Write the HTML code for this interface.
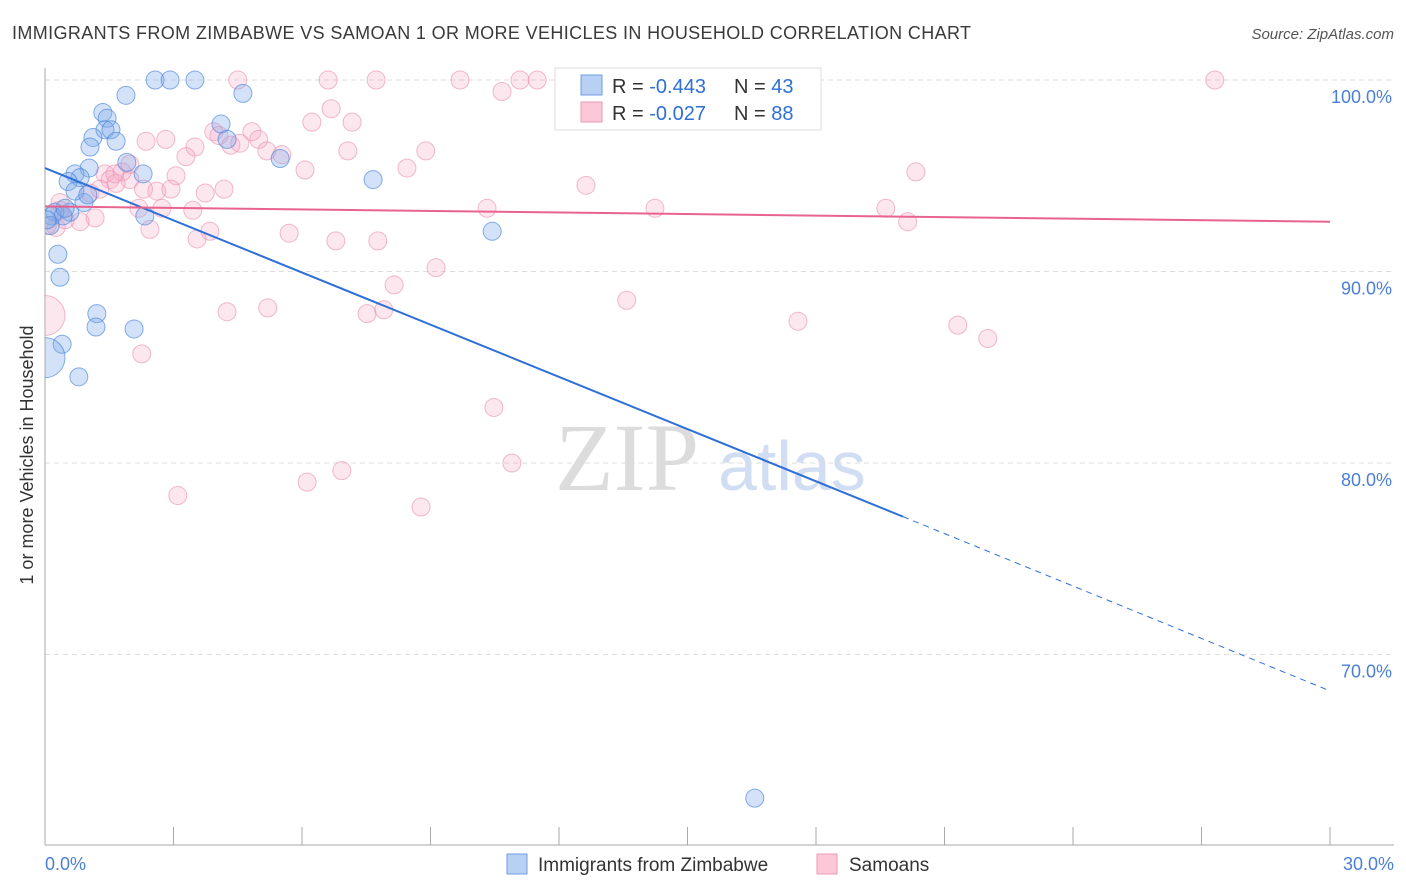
<!DOCTYPE html>
<html><head><meta charset="utf-8"><style>
body{margin:0;background:#fff;font-family:"Liberation Sans",sans-serif;}
svg{display:block}
</style></head><body>
<svg id="c" width="1406" height="892" xmlns="http://www.w3.org/2000/svg">
<defs><clipPath id="plotclip"><rect x="45" y="60" width="1360" height="785"/></clipPath></defs>
<text x="12" y="39" font-size="18" fill="#3a3a3a" textLength="959">IMMIGRANTS FROM ZIMBABWE VS SAMOAN 1 OR MORE VEHICLES IN HOUSEHOLD CORRELATION CHART</text>
<text x="1394" y="39" font-size="15" fill="#555" font-style="italic" text-anchor="end">Source: ZipAtlas.com</text>
<text x="555" y="490" font-size="96" font-family="Liberation Serif,serif" fill="#dcdcdc">ZIP</text>
<text x="718" y="490" font-size="70" fill="#d0ddf2">atlas</text>
<g id="grid"></g><g id="axes"></g><g id="pts" clip-path="url(#plotclip)"></g><g id="trend"></g>
<text transform="translate(33,455) rotate(-90)" font-size="18" fill="#333" text-anchor="middle">1 or more Vehicles in Household</text>
<text x="45" y="870" font-size="18" fill="#4a7fd6">0.0%</text>
<text x="1394" y="870" font-size="18" fill="#4a7fd6" text-anchor="end">30.0%</text>
<g>
<rect x="555" y="68" width="266" height="62" fill="#fff" stroke="#ddd"/>
<rect x="581" y="75" width="21" height="20" fill="#b8d0f4" stroke="#6f9ee0"/>
<rect x="581" y="102" width="21" height="20" fill="#fcc8d8" stroke="#ec9ab4"/>
<text x="612" y="93" font-size="20" fill="#333">R = <tspan fill="#2f6fd8">-0.443</tspan><tspan x="734">N = </tspan><tspan fill="#2f6fd8">43</tspan></text>
<text x="612" y="120" font-size="20" fill="#333">R = <tspan fill="#2f6fd8">-0.027</tspan><tspan x="734">N = </tspan><tspan fill="#2f6fd8">88</tspan></text>
</g>
<g>
<rect x="507" y="854" width="20" height="20" fill="#b8d0f4" stroke="#6f9ee0"/>
<text x="538" y="871" font-size="19" fill="#333">Immigrants from Zimbabwe</text>
<rect x="817" y="854" width="20" height="20" fill="#fcc8d8" stroke="#ec9ab4"/>
<text x="849" y="871" font-size="19" fill="#333">Samoans</text>
</g>
</svg>
<script>
const yTicks=[100,90,80,70];
const xTickVals=[0,3,6,9,12,15,18,21,24,27,30];
// blue series (x %, y %)
const blueX=[2.57,2.92,3.5,1.89,4.62,1.35,1.45,1.4,1.54,1.12,1.66,1.05,4.11,4.25,5.49,1.91,1.03,2.29,0.7,0.82,0.54,7.66,0.91,0.58,0.23,0.16,0.42,2.33,0.12,10.44,0.3,0.35,1.21,1.19,2.08,0.4,0.79,16.57,0,0.05,0.7,0.47,1.0];
const blueY=[100,100,100,99.2,99.3,98.3,98.0,97.4,97.4,97.0,96.8,96.5,97.7,96.9,95.9,95.7,95.4,95.1,95.1,94.9,94.7,94.8,93.6,93.1,93.1,92.9,92.9,92.9,92.4,92.1,90.9,89.7,87.8,87.1,87.0,86.2,84.5,62.5,85.5,92.7,94.2,93.3,94.0];
const blueR=[9,9,9,9,9,9,9,9,9,9,9,9,9,9,9,9,9,9,9,9,9,9,9,9,9,9,9,9,9,9,9,9,9,9,9,9,9,9,20,9,9,9,9];
// pink series
const pinkX=[0,4.5,6.61,7.73,9.69,11.09,11.49,12.3,27.31,10.67,6.68,7.17,6.23,2.82,2.36,3.94,4.06,4.83,4.99,4.34,4.55,3.5,3.29,5.18,5.53,7.07,8.89,8.45,6.07,12.63,20.33,3.06,1.8,1.4,1.52,1.98,1.66,2.3,2.61,2.94,3.74,4.18,3.45,2.19,2.73,1.17,0.82,0.26,2.45,3.85,5.7,3.55,6.79,7.77,10.32,14.24,19.63,20.14,9.13,8.15,5.2,4.25,7.52,7.91,13.58,17.58,21.31,22.01,2.26,10.48,10.9,6.93,6.12,3.1,8.78,0.35,0.47,1.05,1.28,0.05,1.98,1.63,0.35];
const pinkY=[87.7,100,100,100,100,100,100,100,100,99.4,98.5,97.8,97.8,96.9,96.8,97.3,97.1,97.3,96.9,96.6,96.7,96.5,96.0,96.3,96.1,96.3,96.3,95.4,95.3,94.5,95.2,95.0,95.2,95.1,94.8,94.8,94.6,94.3,94.2,94.3,94.1,94.3,93.2,93.3,93.3,92.8,92.6,92.3,92.2,92.1,92.0,91.7,91.6,91.6,93.3,93.3,93.3,92.6,90.2,89.3,88.1,87.9,87.8,88.0,88.5,87.4,87.2,86.5,85.7,82.9,80.0,79.6,79.0,78.3,77.7,93.2,92.7,94.1,94.3,92.4,95.6,95.1,93.6];
const blueTrend=[[0,95.4],[20.03,77.2],[30,68.1]];
const pinkTrend=[[0,93.4],[30,92.6]];
const X0=45,X1=1330,Y100=80,PPU=19.15;
const sx=v=>X0+(v/30)*(X1-X0);
const sy=v=>Y100+(100-v)*PPU;
const NS="http://www.w3.org/2000/svg";
function mk(t,a,p){const e=document.createElementNS(NS,t);for(const k in a)e.setAttribute(k,a[k]);p.appendChild(e);return e;}
const grid=document.getElementById('grid'),axes=document.getElementById('axes'),pts=document.getElementById('pts'),tr=document.getElementById('trend');
yTicks.forEach(t=>{
 const l=mk('line',{x1:X0,x2:1394,y1:sy(t),y2:sy(t),stroke:'#ddd','stroke-dasharray':'5,4'},grid);
 
 
 const tx=mk('text',{x:1392,y:sy(t)+23,'font-size':18,fill:'#4a7fd6','text-anchor':'end'},grid);
 tx.textContent=t.toFixed(1)+'%';
 
 
});
const ya=mk('line',{x1:X0,x2:X0,y1:68,y2:845,stroke:'#aaa'},axes);


const xa=mk('line',{x1:X0,x2:1394,y1:845,y2:845,stroke:'#aaa'},axes);


xTickVals.forEach(v=>{
 const t=mk('line',{x1:sx(v),x2:sx(v),y1:827,y2:845,stroke:'#aaa'},axes);
 
 
});
function series(xs,ys,rs,fill,stroke,name){
 xs.forEach((x,i)=>{
  const c=mk('circle',{cx:sx(x),cy:sy(ys[i]),r:rs?rs[i]:(i===0?20:9),fill:fill,stroke:stroke,'stroke-width':1},pts);
  
  
 });
}
series(pinkX,pinkY,null,'rgba(248,170,198,0.28)','rgba(232,140,172,0.6)','samoan-point');
series(blueX,blueY,blueR,'rgba(130,172,235,0.35)','rgba(70,132,218,0.65)','zimbabwe-point');
const b1=mk('line',{x1:sx(blueTrend[0][0]),y1:sy(blueTrend[0][1]),x2:sx(blueTrend[1][0]),y2:sy(blueTrend[1][1]),stroke:'#2e6fd8','stroke-width':2},tr);


const b2=mk('line',{x1:sx(blueTrend[1][0]),y1:sy(blueTrend[1][1]),x2:sx(blueTrend[2][0]),y2:sy(blueTrend[2][1]),stroke:'#2e6fd8','stroke-width':1,'stroke-dasharray':'6,5'},tr);


const p1=mk('line',{x1:sx(pinkTrend[0][0]),y1:sy(pinkTrend[0][1]),x2:sx(pinkTrend[1][0]),y2:sy(pinkTrend[1][1]),stroke:'#e8648f','stroke-width':2},tr);


</script>
</body></html>
